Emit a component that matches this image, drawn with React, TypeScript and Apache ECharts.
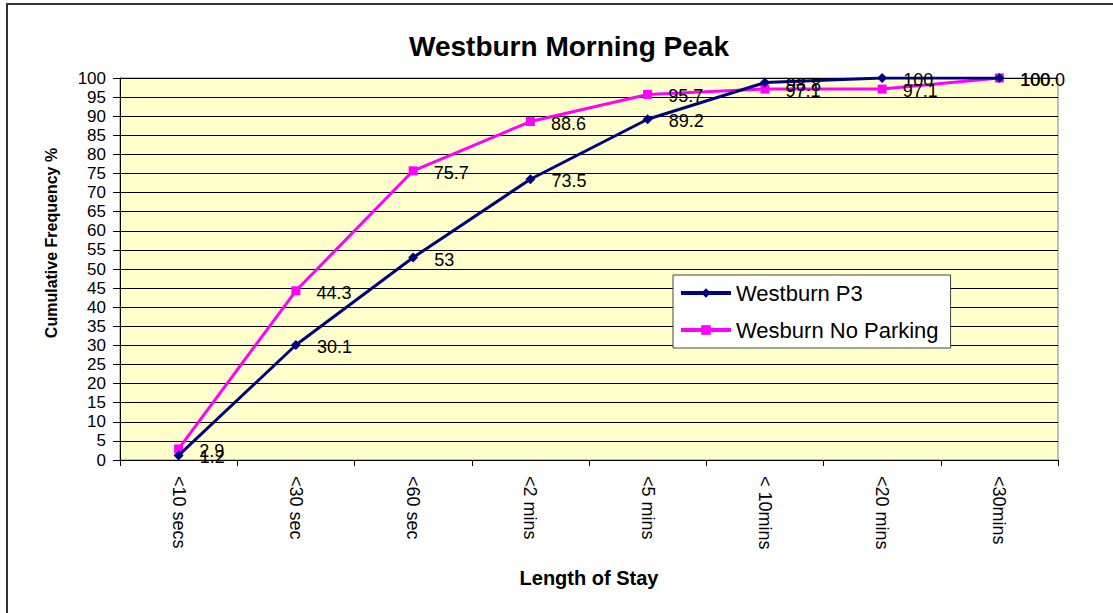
import React, { useEffect, useRef } from "react";
import * as echarts from "echarts";

const categories = ["<10 secs", "<30 sec", "<60 sec", "<2 mins", "<5 mins", "< 10mins", "<20 mins", "<30mins"];
const p3Values = [1.2, 30.1, 53, 73.5, 89.2, 98.8, 100, 100];
const p3Labels = ["1.2", "30.1", "53", "73.5", "89.2", "98.8", "100", "100"];
const noParkValues = [2.9, 44.3, 75.7, 88.6, 95.7, 97.1, 97.1, 100.0];
const noParkLabels = ["2.9", "44.3", "75.7", "88.6", "95.7", "97.1", "97.1", "100.0"];

const FONT = "'Liberation Sans', Arial, sans-serif";

export default function App() {
  const ref = useRef<HTMLDivElement>(null);
  useEffect(() => {
    if (!ref.current) return;
    const chart = echarts.init(ref.current, null, { renderer: "svg" });
    const labelStyle = (labels: string[]) => ({
      show: true,
      position: "right" as const,
      distance: 16,
      offset: [0, 2],
      color: "#000",
      fontSize: 18,
      fontFamily: FONT,
      formatter: (p: any) => labels[p.dataIndex],
    });
    chart.setOption({
      animation: false,
      backgroundColor: "#fff",
      title: {
        text: "Westburn Morning Peak",
        left: 564,
        textAlign: "center",
        top: 27,
        textStyle: { fontFamily: FONT, fontWeight: "bold", fontSize: 28, color: "#000" },
      },
      graphic: [
        {
          type: "rect",
          shape: { x: 7, y: 4, width: 1300, height: 800 },
          style: { fill: "none", stroke: "#333", lineWidth: 2 },
          silent: true,
          z: 100,
        },
        {
          type: "text",
          x: 51,
          y: 243,
          rotation: Math.PI / 2,
          style: {
            text: "Cumulative Frequency %",
            fontFamily: FONT,
            fontWeight: "bold",
            fontSize: 16,
            fill: "#000",
            align: "center",
            verticalAlign: "middle",
          },
        },
      ],
      legend: {
        orient: "vertical",
        left: 673,
        top: 275,
        backgroundColor: "#fff",
        borderColor: "#444",
        borderWidth: 1,
        borderRadius: 0,
        padding: [7, 12, 7, 6],
        itemGap: 15,
        itemWidth: 50,
        itemHeight: 12,
        lineStyle: { width: 4 },
        textStyle: { fontFamily: FONT, fontSize: 22, color: "#000" },
        data: ["Westburn P3", "Wesburn No Parking"],
      },
      grid: {
        left: 120,
        right: 55,
        top: 78,
        bottom: 153,
        show: true,
        backgroundColor: "#FFFFCC",
        borderColor: "#808080",
        borderWidth: 1,
      },
      xAxis: {
        type: "category",
        data: categories,
        boundaryGap: true,
        name: "Length of Stay",
        nameLocation: "middle",
        nameGap: 108,
        nameTextStyle: { fontFamily: FONT, fontWeight: "bold", fontSize: 20, color: "#000" },
        axisLine: { lineStyle: { color: "#000", width: 1 } },
        axisTick: { show: true, alignWithLabel: false, length: 6, lineStyle: { color: "#000" } },
        axisLabel: { rotate: -90, fontFamily: FONT, fontSize: 18, color: "#000", margin: 16 },
        splitLine: { show: false },
      },
      yAxis: {
        type: "value",
        min: 0,
        max: 100,
        interval: 5,
        axisLine: { show: true, lineStyle: { color: "#000" } },
        axisTick: { show: true, length: 7, lineStyle: { color: "#000" } },
        axisLabel: { fontFamily: FONT, fontSize: 17, color: "#000", margin: 14 },
        splitLine: { show: true, lineStyle: { color: "#000", width: 1 } },
      },
      series: [
        {
          name: "Westburn P3",
          type: "line",
          data: p3Values,
          color: "#000080",
          symbol: "diamond",
          symbolSize: 10,
          lineStyle: { width: 3, color: "#000080" },
          itemStyle: { color: "#000080" },
          label: labelStyle(p3Labels),
          z: 3,
        },
        {
          name: "Wesburn No Parking",
          type: "line",
          data: noParkValues,
          color: "#FF00FF",
          symbol: "rect",
          symbolSize: 9,
          lineStyle: { width: 3, color: "#FF00FF" },
          itemStyle: { color: "#FF00FF" },
          label: labelStyle(noParkLabels),
          z: 2,
        },
      ],
    });
    return () => chart.dispose();
  }, []);
  return <div ref={ref} style={{ position: "absolute", left: 0, top: 0, width: 1113, height: 613 }} />;
}
